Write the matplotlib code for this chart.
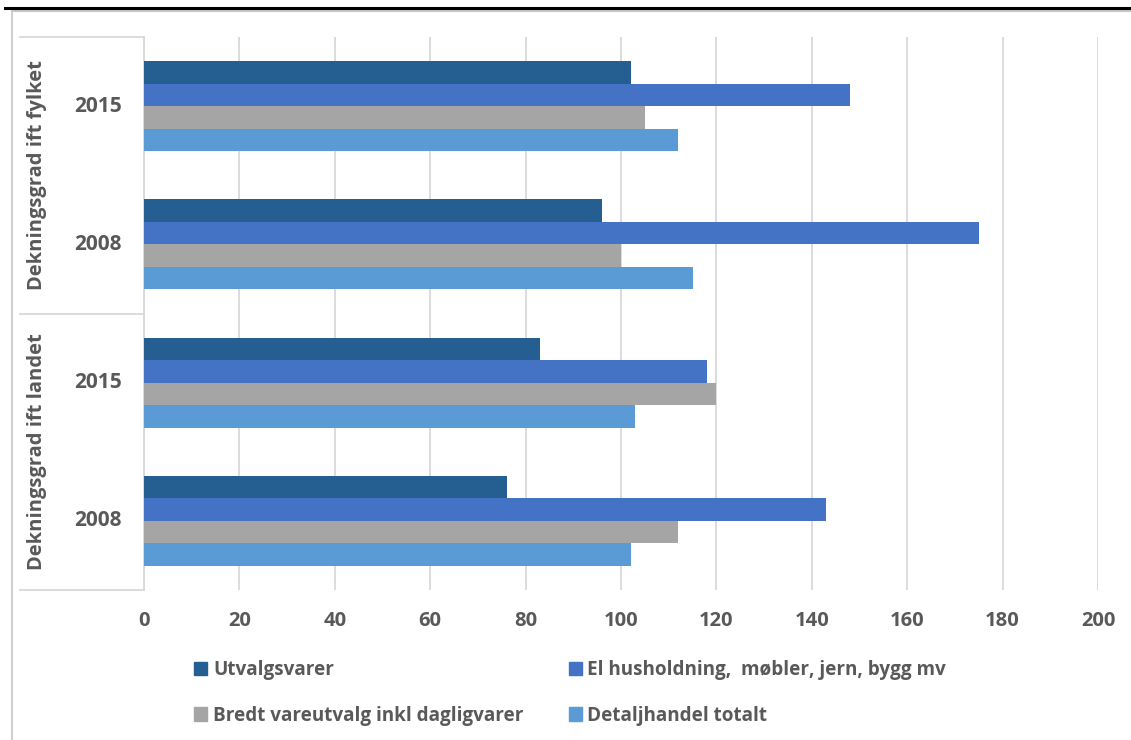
import numpy as np
import matplotlib.pyplot as plt
from matplotlib.patches import Rectangle
from matplotlib.lines import Line2D

plt.rcParams['font.family'] = ['Open Sans', 'DejaVu Sans']

# Data (categories bottom to top)
years = ["2008", "2015", "2008", "2015"]
groups = ["Dekningsgrad ift landet", "Dekningsgrad ift fylket"]
series = [
    "Utvalgsvarer",
    "El husholdning,  møbler, jern, bygg mv",
    "Bredt vareutvalg inkl dagligvarer",
    "Detaljhandel totalt",
]
utvalgsvarer = [76, 83, 96, 102]
el_husholdning = [143, 118, 175, 148]
bredt_vareutvalg = [112, 120, 100, 105]
detaljhandel = [102, 103, 115, 112]
colors = ["#255E91", "#4472C4", "#A5A5A5", "#5B9BD5"]
xticks = list(range(0, 201, 20))

values = [utvalgsvarer, el_husholdning, bredt_vareutvalg, detaljhandel]
txt = "#595959"
grid = "#D9D9D9"

fig = plt.figure(figsize=(11.31, 7.4), dpi=100)
ax = fig.add_axes([144 / 1131, 150 / 740, 954 / 1131, 553 / 740])

y = np.arange(len(years))
h = 0.1625
for i, (vals, c) in enumerate(zip(values, colors)):
    offs = (1.5 - i) * h
    ax.barh(y + offs, vals, height=h, color=c, label=series[i], zorder=3)

ax.set_xlim(0, 200)
ax.set_ylim(-0.5, 3.5)
ax.set_xticks(xticks)
ax.set_xticklabels([str(t) for t in xticks], fontsize=14.5, fontweight="bold", color=txt)
ax.tick_params(axis="x", length=0, pad=15)
ax.set_yticks([])
ax.grid(axis="x", color=grid, linewidth=1.3, zorder=0)
for s in ["top", "right", "bottom"]:
    ax.spines[s].set_visible(False)
ax.spines["left"].set_color(grid)
ax.spines["left"].set_linewidth(1.3)

# multi-level category labels
tr = ax.get_yaxis_transform()
for yi, yr in zip(y, years):
    ax.text(-0.048, yi, yr, transform=tr, ha="center", va="center",
            fontsize=15, fontweight="bold", color=txt)
for gi, g in enumerate(groups):
    ax.text(-0.112, 0.5 + 2 * gi, g, transform=tr, ha="center", va="center",
            rotation=90, fontsize=14.5, fontweight="bold", color=txt)
for yb in [-0.5, 1.5, 3.5]:
    ax.plot([-0.130, 0], [yb, yb], transform=tr, color=grid, lw=1.3, clip_on=False)

# legend
handles = [Rectangle((0, 0), 1, 1, color=c) for c in colors]
order = [0, 2, 1, 3]
fig.legend([handles[i] for i in order], [series[i] for i in order], ncol=2,
           loc="upper left", bbox_to_anchor=(177 / 1131, 1 - 643 / 740),
           frameon=False, handlelength=0.7, handleheight=0.7, handletextpad=0.3,
           labelspacing=1.35, columnspacing=2.4,
           prop={"size": 13.6, "weight": "bold"}, labelcolor=txt)

# outer frame and top rule
fig.add_artist(Line2D([12 / 1131, 12 / 1131], [0, 1 - 11 / 740], color="#D0D0D0", lw=1.5))
fig.add_artist(Line2D([12 / 1131, 1], [1 - 11 / 740, 1 - 11 / 740], color="#C8C8C8", lw=1.5))
fig.add_artist(Line2D([5 / 1131, 1], [1 - 8 / 740, 1 - 8 / 740], color="black", lw=2.2))
fig.text(0.0, 1 + 11 / 740, "Handel og senteranalyse Moby", fontsize=17, color="black",
         ha="left", va="bottom")

fig.savefig("out.png", dpi=100)
